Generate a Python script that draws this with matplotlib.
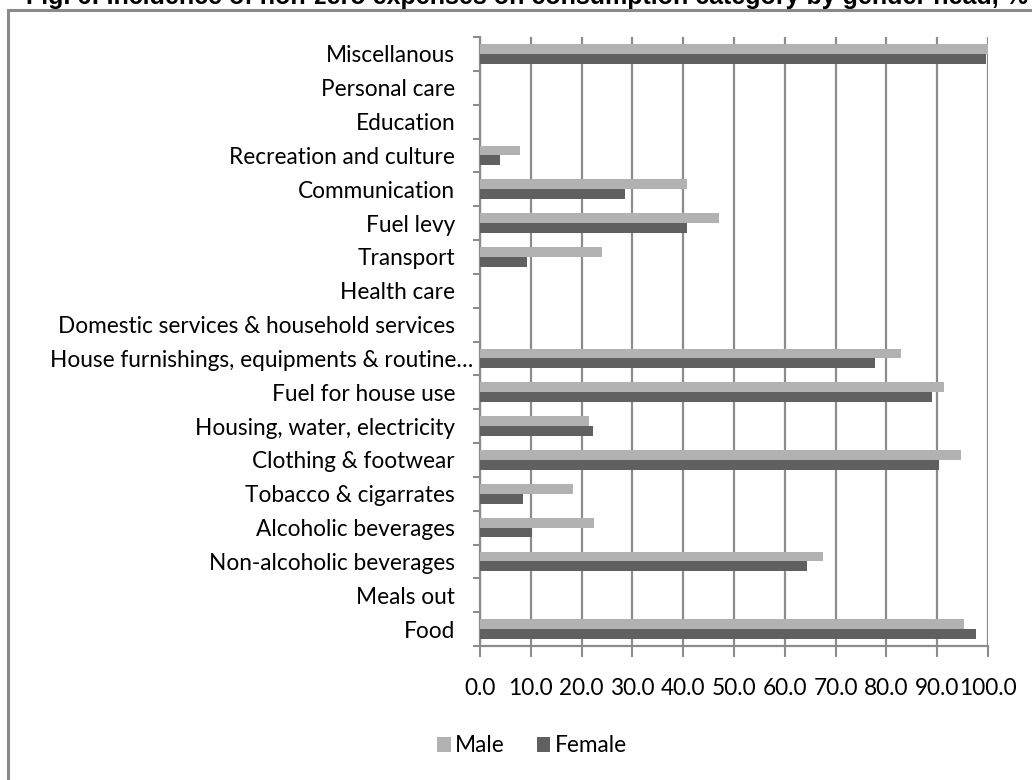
import matplotlib

matplotlib.use("Agg")
import matplotlib.pyplot as plt
import numpy as np
from matplotlib.patches import Rectangle
from matplotlib.transforms import ScaledTranslation

W, H = 1032, 780

TITLE = "Fig. 6: Incidence of non-zero expenses on consumption category by gender head, %"

categories = [
    "Food",
    "Meals out",
    "Non-alcoholic beverages",
    "Alcoholic beverages",
    "Tobacco & cigarrates",
    "Clothing & footwear",
    "Housing, water, electricity",
    "Fuel for house use",
    "House furnishings, equipments & routine\u2026",
    "Domestic services & household services",
    "Health care",
    "Transport",
    "Fuel levy",
    "Communication",
    "Recreation and culture",
    "Education",
    "Personal care",
    "Miscellanous",
]
male = [95.2, 0, 67.5, 22.5, 18.4, 94.7, 21.5, 91.3, 82.9, 0, 0, 24.1, 47.1, 40.7, 7.8, 0, 0, 100.0]
female = [97.6, 0, 64.4, 10.3, 8.4, 90.4, 22.3, 89.0, 77.7, 0, 0, 9.2, 40.7, 28.6, 4.0, 0, 0, 99.6]
x_ticks = np.arange(0, 101, 10)

MALE_C = "#b2b2b2"
FEMALE_C = "#606060"
GRID_C = "#8c8c8c"
FONT = "Lato"
FS = 16.3

fig = plt.figure(figsize=(W / 100, H / 100), dpi=100)

# outer chart border, runs off the right and bottom edges
fig.patches.append(Rectangle((8 / W, -0.1), 2.0, 1 - 10 / H + 0.1, transform=fig.transFigure,
                             fill=False, ec="#8a8a8a", lw=2.2))
fig.text(26 / W, 1 - 4 / H, TITLE, fontsize=18, fontweight="bold",
         family="Liberation Sans", va="baseline", ha="left")

left, right, bottom, top = 480, 988, 646, 37
ax = fig.add_axes([left / W, 1 - bottom / H, (right - left) / W, (bottom - top) / H])

y = np.arange(len(categories))
bh = 0.29
ax.barh(y + bh / 2, male, height=bh, color=MALE_C, label="Male", zorder=3)
ax.barh(y - bh / 2, female, height=bh, color=FEMALE_C, label="Female", zorder=3)

ax.set_xlim(0, 100)
ax.set_ylim(-0.5, len(categories) - 0.5)
ax.set_xticks(x_ticks)
ax.set_xticklabels([f"{v:.1f}" for v in x_ticks], family=FONT, fontsize=FS)
ax.set_yticks(y)
ax.set_yticklabels(categories, family=FONT, fontsize=FS)
ax.set_yticks(np.arange(len(categories) + 1) - 0.5, minor=True)
ax.tick_params(axis="y", which="major", length=0, pad=18)
ax.tick_params(axis="y", which="minor", length=5, width=1.5, color=GRID_C)
ax.tick_params(axis="x", length=8, width=1.5, color=GRID_C, pad=15)

# the truncated label runs past the others, up to the axis ticks
long_lbl = ax.get_yticklabels()[categories.index("House furnishings, equipments & routine\u2026")]
long_lbl.set_transform(long_lbl.get_transform() + ScaledTranslation(0.18, 0, fig.dpi_scale_trans))

ax.grid(axis="x", color=GRID_C, lw=1.6, zorder=0)
for side in ["top", "right"]:
    ax.spines[side].set_visible(False)
for side in ["left", "bottom"]:
    ax.spines[side].set_color(GRID_C)
    ax.spines[side].set_linewidth(1.6)

fig.legend(loc="center", bbox_to_anchor=(532 / W, 1 - 746 / H), ncol=2, frameon=False,
           prop={"family": FONT, "size": FS}, handlelength=0.6, handleheight=0.6,
           handletextpad=0.2, columnspacing=1.4)

fig.savefig("out.png", dpi=100)
